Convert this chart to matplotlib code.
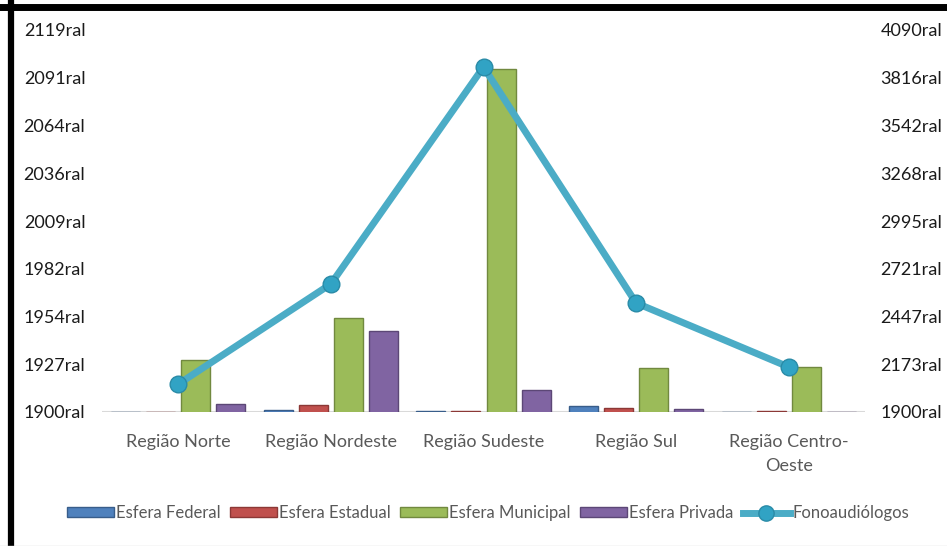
import numpy as np
import matplotlib
matplotlib.use('Agg')
import matplotlib.pyplot as plt
from matplotlib.lines import Line2D
from matplotlib.patches import Rectangle

regioes = ['Região Norte', 'Região Nordeste', 'Região Sudeste', 'Região Sul', 'Região Centro-\nOeste']

# bar values (left axis units)
federal = [1900.0, 1901.0, 1900.7, 1903.4, 1900.0]
estadual = [1900.0, 1904.0, 1900.7, 1902.3, 1900.7]
municipal = [1929.8, 1954.0, 2096.5, 1925.2, 1925.6]
privada = [1904.6, 1946.4, 1912.6, 1901.5, 1900.0]

# line values (right axis units)
fono = [2060, 2634, 3878, 2525, 2158]

left_ticks = [1900, 1927.375, 1954.75, 1982.125, 2009.5, 2036.875, 2064.25, 2091.625, 2119]
left_labels = ['1900ral', '1927ral', '1954ral', '1982ral', '2009ral', '2036ral', '2064ral', '2091ral', '2119ral']
right_ticks = [1900, 2173.75, 2447.5, 2721.25, 2995, 3268.75, 3542.5, 3816.25, 4090]
right_labels = ['1900ral', '2173ral', '2447ral', '2721ral', '2995ral', '3268ral', '3542ral', '3816ral', '4090ral']

plt.rcParams['font.family'] = ['Lato', 'DejaVu Sans']

fig = plt.figure(figsize=(9.47, 5.46), dpi=100)
W, H = 947, 546
ax1 = fig.add_axes([102 / W, (H - 412) / H, (865 - 102) / W, (412 - 30) / H])

x = np.arange(len(regioes))
w = 0.19
step = 0.23
series = [
    (federal, '#4F81BD', '#385D8A', 'Esfera Federal'),
    (estadual, '#C0504D', '#8C3836', 'Esfera Estadual'),
    (municipal, '#9BBB59', '#71893F', 'Esfera Municipal'),
    (privada, '#8064A2', '#5C4776', 'Esfera Privada'),
]
handles = []
for i, (vals, fc, ec, lab) in enumerate(series):
    xi = x + (i - 1.5) * step
    ax1.bar(xi, vals, width=w, color=fc, edgecolor=ec, linewidth=1.0, zorder=2)
    handles.append(Rectangle((0, 0), 1, 1, facecolor=fc, edgecolor=ec, label=lab))

ax1.set_xlim(-0.5, len(regioes) - 0.5)
ax1.set_ylim(1900, 2119)
ax1.set_yticks(left_ticks)
ax1.set_yticklabels(left_labels)
ax1.set_xticks(x)
ax1.set_xticklabels(regioes, color='#595959', fontsize=13, linespacing=1.6)
ax1.tick_params(axis='both', length=0, labelsize=13)
ax1.tick_params(axis='y', pad=12, labelcolor='#1a1a1a')
ax1.tick_params(axis='x', pad=16)
for s in ax1.spines.values():
    s.set_visible(False)
ax1.axhline(1900, color='#D9D9D9', linewidth=1.5, zorder=1)

ax2 = ax1.twinx()
ax2.set_ylim(1900, 4090)
ax2.set_yticks(right_ticks)
ax2.set_yticklabels(right_labels)
ax2.tick_params(axis='y', length=0, labelsize=13, labelcolor='#1a1a1a', pad=11)
for s in ax2.spines.values():
    s.set_visible(False)
ax2.plot(x, fono, color='#4BACC6', linewidth=5, marker='o', markersize=12,
         markerfacecolor='#31A3C4', markeredgecolor='#2A8BA7', zorder=3)
handles.append(Line2D([0], [0], color='#4BACC6', linewidth=5, marker='o', markersize=11,
                      markerfacecolor='#31A3C4', markeredgecolor='#2A8BA7', label='Fonoaudiólogos'))

fig.legend(handles=handles, loc='center', bbox_to_anchor=(488 / W, (H - 513) / H), ncol=5,
           frameon=False, fontsize=12, handlelength=2.8, handleheight=0.5, handletextpad=0.15,
           columnspacing=0.55, labelcolor='#595959')

# frame lines
fig.add_artist(Line2D([10.5 / W, 10.5 / W], [0, 1], color='black', linewidth=4.5, transform=fig.transFigure))
fig.add_artist(Line2D([0, 1], [(H - 7) / H, (H - 7) / H], color='black', linewidth=5, transform=fig.transFigure))
fig.add_artist(Line2D([0, 1], [0.5 / H, 0.5 / H], color='#D9D9D9', linewidth=1, transform=fig.transFigure))

plt.savefig('out.png', dpi=100)
